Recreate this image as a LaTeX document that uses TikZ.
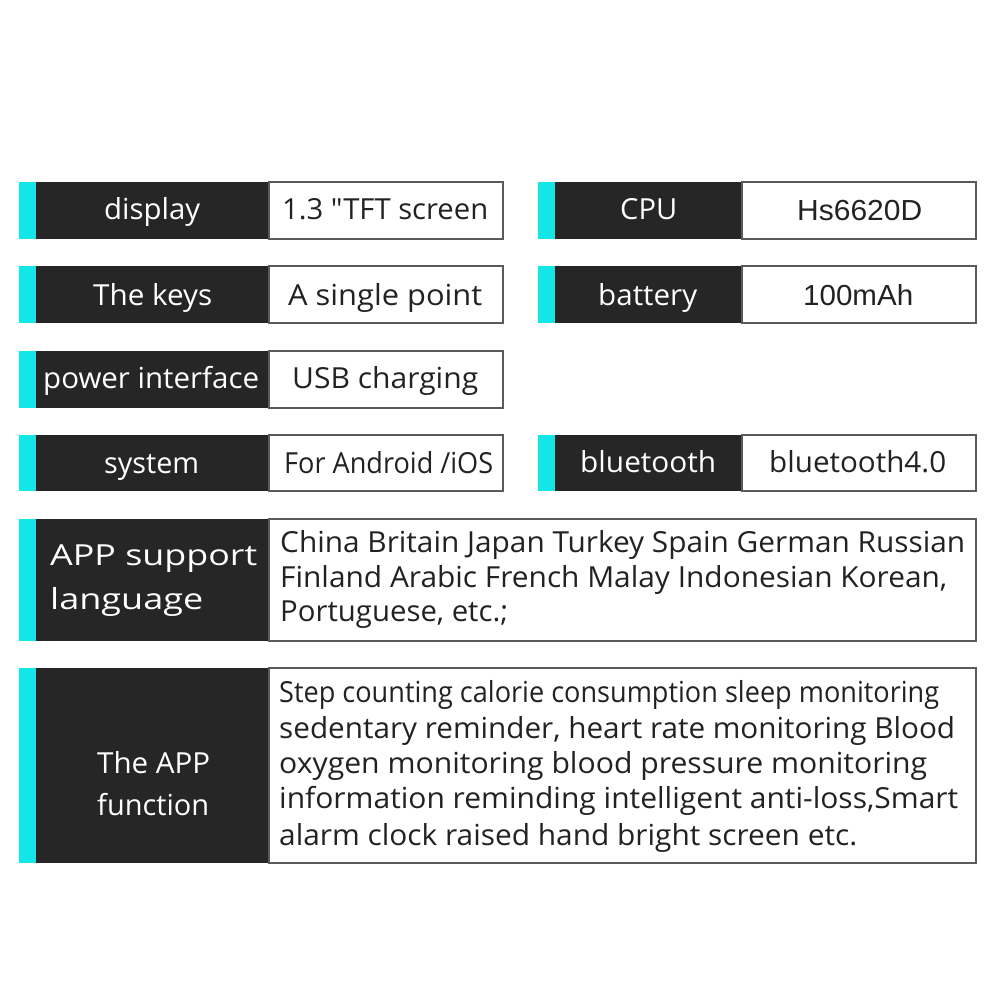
\documentclass[tikz,border=0pt]{standalone}
\usepackage{fontspec}
\setmainfont{Open Sans}
\newfontfamily\qf{Open Sans}[Ligatures=TeXOff]
\newfontfamily\arialf{Liberation Sans}
\usepackage{graphicx}
\definecolor{darkc}{HTML}{262626}
\definecolor{cyanc}{HTML}{12E6E6}
\definecolor{bordc}{HTML}{5A5A5A}
\definecolor{textc}{HTML}{222222}
\newcommand\fitw[2]{\resizebox{#1pt}{\height}{#2}}
\newcommand\specrow[7]{%
  \node[barbox, minimum width={(#3-#2)*1pt}, minimum height={(#7-#6)*1pt}] (#1c) at (#2,#6) {};
  \node[labbox, minimum width={(#4-#3)*1pt}, minimum height={(#7-#6)*1pt}] (#1l) at (#3,#6) {};
  \node[valbox, minimum width={(#5-#4)*1pt}, minimum height={(#7-#6)*1pt}] (#1v) at (#4,#6) {};
}
\begin{document}
\begin{tikzpicture}[x=1pt,y=-1pt,
  barbox/.style={fill=cyanc, draw=none, inner sep=0, outer sep=0, anchor=north west},
  labbox/.style={fill=darkc, draw=none, inner sep=0, outer sep=0, anchor=north west},
  valbox/.style={fill=white, draw=bordc, line width=1.4pt, inner sep=0, outer sep=0, anchor=north west},
  wt/.style={text=white, inner sep=0, anchor=base west, font=\fontsize{29}{33}\selectfont},
  bt/.style={text=textc, inner sep=0, anchor=base west, font=\fontsize{29}{33}\selectfont},
]
\useasboundingbox[fill=white] (0,0) rectangle (1000,1000);

% rows
\specrow{disp}{19}{36}{269}{503}{182}{239}
\specrow{keys}{19}{36}{269}{503}{266}{323}
\specrow{powr}{19}{36}{269}{503}{351}{408}
\specrow{syst}{19}{36}{269}{503}{435}{491}
\specrow{cpu}{538}{555}{742}{976}{182}{239}
\specrow{batt}{538}{555}{742}{976}{266}{323}
\specrow{blue}{538}{555}{742}{976}{435}{491}
\specrow{lang}{19}{36}{269}{976}{519}{641}
\specrow{func}{19}{36}{269}{976}{668}{863}

% labels and values
\node[wt] (tdisp) at (104,220) {\fitw{96}{display}};
\node[bt] (vdisp) at (282,220) {\fitw{206}{\qf 1.3 "TFT screen}};
\node[wt] (tkeys) at (93,305) {\fitw{119}{The keys}};
\node[bt] (vkeys) at (288,305) {\fitw{194}{A single point}};
\node[wt] (tpowr) at (43,388) {\fitw{216}{power interface}};
\node[bt] (vpowr) at (292,388) {\fitw{186}{USB charging}};
\node[wt] (tsyst) at (104,473) {\fitw{95}{system}};
\node[bt] (vsyst) at (284,473) {\fitw{209}{For Android /iOS}};
\node[wt] (tcpu) at (620,220) {\fitw{57}{CPU}};
\node[bt] (vcpu) at (797,220) {\fitw{125}{\arialf Hs6620D}};
\node[wt] (tbatt) at (598,305) {\fitw{99}{battery}};
\node[bt] (vbatt) at (803,305) {\fitw{110}{\arialf 100mAh}};
\node[wt] (tblue) at (580,472) {\fitw{136}{bluetooth}};
\node[bt] (vblue) at (769,472) {\fitw{177}{bluetooth4.0}};

\node[wt] (tlang1) at (50,565) {\fitw{207}{APP support}};
\node[wt] (tlang2) at (50,609) {\fitw{153}{language}};
\node[bt] (vlang1) at (280,552) {\fitw{685}{China Britain Japan Turkey Spain German Russian}};
\node[bt] (vlang2) at (280,587) {\fitw{667}{Finland Arabic French Malay Indonesian Korean,}};
\node[bt] (vlang3) at (280,621) {\fitw{228}{Portuguese, etc.;}};

\node[wt] (tfunc1) at (97,773) {\fitw{113}{The APP}};
\node[wt] (tfunc2) at (97,815) {\fitw{112}{function}};
\node[bt] (vfunc1) at (279,702) {\fitw{660}{Step counting calorie consumption sleep monitoring}};
\node[bt] (vfunc2) at (279,738) {\fitw{676}{sedentary reminder, heart rate monitoring Blood}};
\node[bt] (vfunc3) at (279,773) {\fitw{648}{oxygen monitoring blood pressure monitoring}};
\node[bt] (vfunc4) at (279,808) {\fitw{679}{information reminding intelligent anti-loss,Smart}};
\node[bt] (vfunc5) at (279,845) {\fitw{578}{alarm clock raised hand bright screen etc.}};
\end{tikzpicture}
\end{document}
